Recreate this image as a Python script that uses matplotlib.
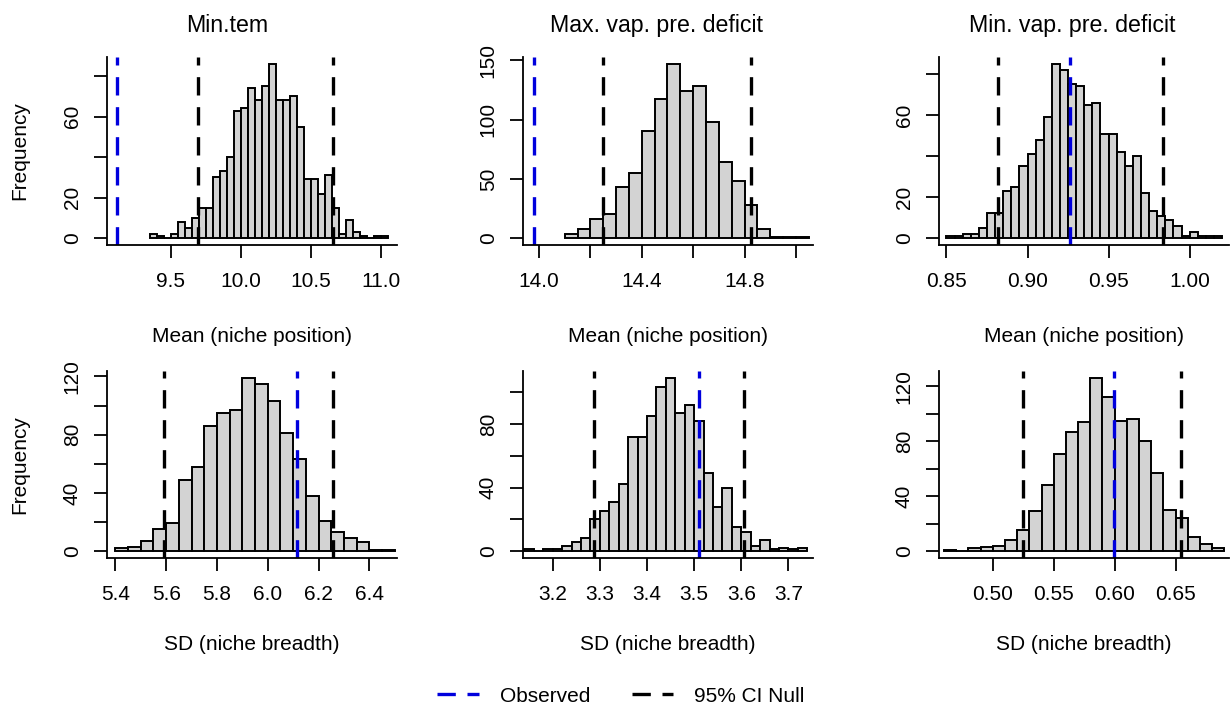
import matplotlib.pyplot as plt
import numpy as np
from matplotlib.lines import Line2D

plt.rcParams['font.family'] = ['Liberation Sans', 'DejaVu Sans']
plt.rcParams['font.size'] = 15

# ---- values (1000 null replicates per panel) ----
titles = ['Min.tem', 'Max. vap. pre. deficit', 'Min. vap. pre. deficit']

# row 1: mean (niche position)
mean_start = [9.35, 14.10, 0.850]
mean_width = [0.05, 0.05, 0.005]
mean_counts = [
    [2, 1, 0, 2, 8, 5, 10, 15, 15, 30, 33, 40, 63, 64, 74, 68, 75, 86, 68, 68,
     70, 55, 29, 29, 22, 31, 15, 2, 9, 3, 1, 0, 1, 1],
    [3, 8, 16, 20, 43, 55, 90, 117, 147, 124, 128, 98, 64, 48, 28, 8, 1, 1, 1],
    [1, 1, 2, 2, 5, 12, 12, 23, 25, 35, 41, 48, 59, 85, 82, 75, 74, 65, 66, 51,
     51, 42, 35, 40, 22, 13, 11, 9, 6, 1, 3, 1, 1, 1],
]
mean_observed = [9.119, 13.979, 0.926]
mean_ci = [(9.693, 10.662), (14.248, 14.823), (0.8815, 0.9833)]

# row 2: SD (niche breadth)
sd_start = [5.40, 3.14, 0.46]
sd_width = [0.05, 0.02, 0.01]
sd_counts = [
    [2, 3, 7, 15, 19, 49, 58, 86, 95, 97, 119, 115, 103, 81, 63, 38, 21, 13, 9,
     6, 1, 1],
    [1, 0, 1, 1, 3, 6, 8, 20, 25, 31, 42, 72, 72, 85, 103, 109, 87, 92, 82, 49,
     28, 40, 15, 12, 3, 7, 1, 2, 1, 2],
    [1, 0, 2, 3, 4, 8, 15, 29, 48, 71, 87, 94, 126, 112, 95, 96, 80, 57, 30, 24,
     10, 5, 2],
]
sd_observed = [6.116, 3.511, 0.5993]
sd_ci = [(5.592, 6.258), (3.288, 3.605), (0.5249, 0.6543)]

# axis settings
mean_xlim = [(9.045, 11.116), (13.938, 15.066), (0.8454, 1.0243)]
sd_xlim = [(5.367, 6.509), (3.137, 3.752), (0.4559, 0.6938)]
mean_xticks = [[9.5, 10.0, 10.5, 11.0], [14.0, 14.2, 14.4, 14.6, 14.8, 15.0],
               [0.85, 0.90, 0.95, 1.00]]
mean_xlabels = [['9.5', '10.0', '10.5', '11.0'], ['14.0', '', '14.4', '', '14.8', ''],
                ['0.85', '0.90', '0.95', '1.00']]
sd_xticks = [[5.4, 5.6, 5.8, 6.0, 6.2, 6.4], [3.2, 3.3, 3.4, 3.5, 3.6, 3.7],
             [0.50, 0.55, 0.60, 0.65]]
sd_xlabels = [['5.4', '5.6', '5.8', '6.0', '6.2', '6.4'],
              ['3.2', '3.3', '3.4', '3.5', '3.6', '3.7'],
              ['0.50', '0.55', '0.60', '0.65']]
mean_yticks = [[0, 20, 40, 60, 80], [0, 50, 100, 150], [0, 20, 40, 60, 80]]
mean_ylabels = [['0', '20', '', '60', ''], ['0', '50', '100', '150'],
                ['0', '20', '', '60', '']]
sd_yticks = [[0, 20, 40, 60, 80, 100, 120], [0, 20, 40, 60, 80, 100],
             [0, 20, 40, 60, 80, 100, 120]]
sd_ylabels = [['0', '', '40', '', '80', '', '120'], ['0', '', '40', '', '80', ''],
              ['0', '', '40', '', '80', '', '120']]

W, H = 1231, 707
fig = plt.figure(figsize=(W / 100, H / 100), dpi=100)

lefts = [107, 523, 939]
rows = [(57, 245), (371, 558)]
title_x = [227, 656, 1072]
obs_col = '#0000dd'
dash = (0, (5.5, 3.5))


def draw_panel(ax, start, width, counts, obs, ci, xlim, xt, xl, yt, yl):
    edges = start + width * np.arange(len(counts) + 1)
    ax.hist(edges[:-1] + width / 2, bins=edges, weights=counts,
            color='#d3d3d3', edgecolor='black', linewidth=1.4)
    ax.axvline(obs, color=obs_col, lw=2.4, ls=dash)
    for c in ci:
        ax.axvline(c, color='black', lw=2.4, ls=dash)
    ax.set_xlim(*xlim)
    top = max(counts)
    ax.set_ylim(-0.04 * top, 1.04 * top)
    ax.set_xticks(xt, xl)
    ax.set_yticks(yt, yl, rotation=90, va='center')
    for s in ['top', 'right']:
        ax.spines[s].set_visible(False)
    for s in ['left', 'bottom']:
        ax.spines[s].set_linewidth(1.3)
    ax.tick_params(length=9.4, width=1.3, labelsize=15)
    ax.tick_params(axis='x', pad=9.7)
    ax.tick_params(axis='y', pad=8.7)


for r, (ytop, ybot) in enumerate(rows):
    for c in range(3):
        ax = fig.add_axes([lefts[c] / W, 1 - ybot / H, 290 / W, (ybot - ytop) / H])
        if r == 0:
            draw_panel(ax, mean_start[c], mean_width[c], mean_counts[c],
                       mean_observed[c], mean_ci[c], mean_xlim[c],
                       mean_xticks[c], mean_xlabels[c], mean_yticks[c], mean_ylabels[c])
            xlab, base = 'Mean (niche position)', 341.7
        else:
            draw_panel(ax, sd_start[c], sd_width[c], sd_counts[c],
                       sd_observed[c], sd_ci[c], sd_xlim[c],
                       sd_xticks[c], sd_xlabels[c], sd_yticks[c], sd_ylabels[c])
            xlab, base = 'SD (niche breadth)', 649.5
        fig.text((lefts[c] + 145) / W, 1 - base / H, xlab, ha='center',
                 va='baseline', fontsize=15)
        if c == 0:
            fig.text(20 / W, 1 - (ytop + ybot) / 2 / H, 'Frequency', rotation=90,
                     ha='center', va='center', fontsize=15)
        if r == 0:
            fig.text(title_x[c] / W, 1 - 32.3 / H, titles[c], ha='center',
                     va='baseline', fontsize=16.7)

handles = [Line2D([], [], color=obs_col, lw=2.4, ls=dash),
           Line2D([], [], color='black', lw=2.4, ls=dash)]
fig.legend(handles, ['Observed', '95% CI Null'], loc='center',
           bbox_to_anchor=(621 / W, 1 - 696 / H), ncol=2, frameon=False,
           fontsize=15, handlelength=2.0, handletextpad=1.0, columnspacing=2.0)

fig.savefig('out.png', dpi=100)
